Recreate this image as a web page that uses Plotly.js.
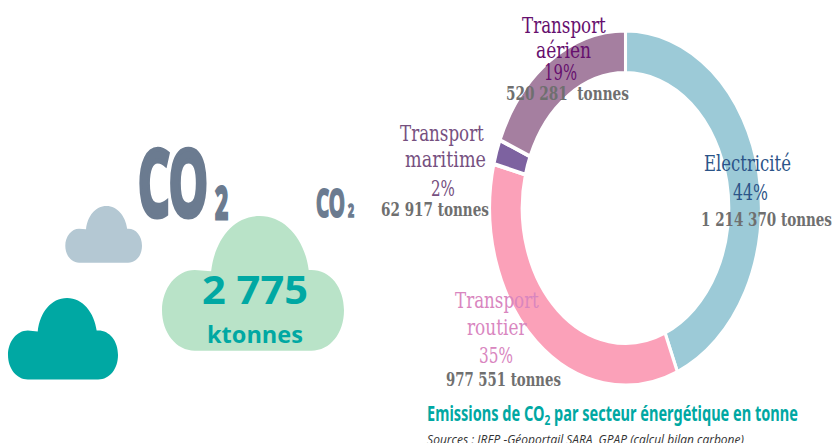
<!DOCTYPE html>
<html><head><meta charset="utf-8">
<script src="https://cdn.plot.ly/plotly-3.0.1.min.js"></script>
<style>html,body{margin:0;padding:0;background:#fff;overflow:hidden}</style>
</head><body><div id="chart" style="width:834px;height:443px"></div>
<script>
const categories = ['Electricité', 'Transport routier', 'Transport maritime', 'Transport aérien'];
const tonnes = [1214370, 977551, 62917, 520281];
const shares = ['44%', '35%', '2%', '19%'];
const tonneLabels = ['1 214 370 tonnes', '977 551 tonnes', '62 917 tonnes', '520 281  tonnes'];
const sliceColors = ['#9ccad7', '#fba1b9', '#7d62a0', '#a57fa0'];
const total = '2 775';
const totalUnit = 'ktonnes';
const chartTitle = 'Emissions de CO<sub>2</sub> par secteur énergétique en tonne';
const sourceText = 'Sources : IREP -Géoportail,SARA, GPAP (calcul bilan carbone)';

const W = 834, H = 443;
const fx = x => x / W, fy = y => 1 - y / H;
function cloud(x0, y0, x1, y1, color) {
  const p = (u, v) => fx(x0 + u * (x1 - x0)) + ',' + fy(y0 + v * (y1 - y0));
  const path = 'M' + p(.18, 1) +
    ' C' + p(.08, 1) + ' ' + p(0, .87) + ' ' + p(0, .70) +
    ' C' + p(0, .535) + ' ' + p(.08, .40) + ' ' + p(.18, .40) +
    ' L' + p(.27, .41) +
    ' C' + p(.29, .18) + ' ' + p(.39, 0) + ' ' + p(.537, 0) +
    ' C' + p(.68, 0) + ' ' + p(.785, .18) + ' ' + p(.806, .40) +
    ' L' + p(.82, .40) +
    ' C' + p(.925, .40) + ' ' + p(1, .53) + ' ' + p(1, .70) +
    ' C' + p(1, .87) + ' ' + p(.925, 1) + ' ' + p(.82, 1) + ' Z';
  return {type: 'path', xref: 'paper', yref: 'paper', path, fillcolor: color, line: {width: 0}, layer: 'below'};
}
const SERIF = '"DejaVu Serif",serif';
const SANS = '"Noto Sans",sans-serif';
const OPEN = '"Open Sans",sans-serif';
const extents = [];
const strokes = [];
function label(text, x0, x1, y, size, color, family, stroke) {
  extents.push([x0, x1]);
  strokes.push(stroke ? [color, stroke] : null);
  return {text, x: fx((x0 + x1) / 2), y: fy(y), xref: 'paper', yref: 'paper', showarrow: false,
    xanchor: 'center', yanchor: 'middle', borderpad: 0, font: {size, color, family: family || SERIF}};
}
const GREY = '#6f6f6f', AIR = '#660f6e', SEA = '#76507f', ELEC = '#2b5488', ROAD = '#d986bf', TEAL = '#00a8a3', SLATE = '#6b7b90';
const annotations = [
  label('Transport', 522, 606, 25, 22, AIR),
  label('aérien', 536, 591, 51, 22, AIR),
  label(shares[3], 544, 577, 72, 22, AIR),
  label('<b>' + tonneLabels[3] + '</b>', 506, 629, 93, 18, GREY),
  label('Transport', 400, 484, 133, 22, SEA),
  label('maritime', 405, 486, 160, 22, SEA),
  label(shares[2], 431, 455, 188, 22, SEA),
  label('<b>' + tonneLabels[2] + '</b>', 381, 489, 209, 18, GREY),
  label('Electricité', 704, 791, 163, 22, ELEC),
  label(shares[0], 733, 768, 192, 22, ELEC),
  label('<b>' + tonneLabels[0] + '</b>', 701, 832, 220, 18, GREY),
  label('Transport', 455, 539, 300, 22, ROAD),
  label('routier', 467, 527, 327, 22, ROAD),
  label(shares[1], 479, 513, 355, 22, ROAD),
  label('<b>' + tonneLabels[1] + '</b>', 446, 561, 379, 18, GREY),
  label('<b>' + chartTitle + '</b>', 427, 798, 414, 21, TEAL, SANS),
  label('<i>' + sourceText + '</i>', 427, 744, 439, 12, '#333333', OPEN),
  label('<b>' + total + '</b>', 202, 308, 288, 40, TEAL, OPEN),
  label('<b>' + totalUnit + '</b>', 207, 303, 333, 24, TEAL, OPEN),
  label('<b>CO</b>', 138, 208, 181, 92, SLATE, SANS, 5),
  label('<b>2</b>', 215, 228, 202, 44, SLATE, SANS, 3),
  label('<b>CO</b>', 316, 345, 201, 39, SLATE, SANS, 2),
  label('<b>2</b>', 348, 354, 210, 18, SLATE, SANS, 1.5)
];
const data = [{
  type: 'pie', labels: categories, values: tonnes, sort: false, direction: 'clockwise', rotation: 0,
  hole: 0.76, textinfo: 'none', hoverinfo: 'label+value+percent',
  marker: {colors: sliceColors, line: {color: '#ffffff', width: 4}},
  domain: {x: [fx(625.5 - 178), fx(625.5 + 178)], y: [fy(385.5), fy(30.5)]}
}];
const layout = {
  width: W, height: H, margin: {l: 0, r: 0, t: 0, b: 0}, showlegend: false,
  paper_bgcolor: '#ffffff', plot_bgcolor: '#ffffff', annotations,
  shapes: [cloud(8, 298, 118, 379.5, TEAL), cloud(65.3, 206, 142, 262.7, '#b4c8d3'), cloud(162, 216, 344, 350.7, '#b9e3c8')]
};
Plotly.newPlot('chart', data, layout, {displayModeBar: false, staticPlot: true}).then(() => {
  const cx = 625.5, sx = 135.5 / 177;
  document.querySelector('.pielayer').setAttribute('transform',
    'translate(' + cx + ' 0) scale(' + sx + ' 1) translate(' + (-cx) + ' 0)');
  // Narrow each text to the width it has in the reference (no condensed fonts are installed).
  document.querySelectorAll('.annotation').forEach((a, i) => {
    const g = a.querySelector('.annotation-text-g');
    const t = a.querySelector('text');
    const r = t.getBoundingClientRect();
    const [x0, x1] = extents[i];
    const s = (x1 - x0) / r.width;
    g.setAttribute('transform', 'translate(' + x0 + ' 0) scale(' + s + ' 1) translate(' + (-r.left) + ' 0)');
    if (strokes[i]) { t.style.stroke = strokes[i][0]; t.style.strokeWidth = strokes[i][1] + 'px'; }
  });
});
</script></body></html>
